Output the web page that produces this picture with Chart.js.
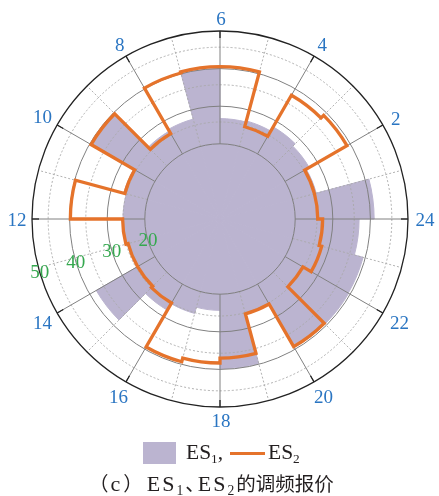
<!DOCTYPE html>
<html>
<head>
<meta charset="utf-8">
<script src="https://cdn.jsdelivr.net/npm/chart.js@4.4.1/dist/chart.umd.min.js"></script>
<style>
  html, body { margin: 0; padding: 0; background: #ffffff; }
  #wrap { position: relative; width: 439px; height: 496px; overflow: hidden; }
  #chart { position: absolute; left: 0; top: 0; }
  .serif { font-family: "Liberation Serif", "DejaVu Serif", serif; color: #231f20; }
  .abs { position: absolute; white-space: nowrap; }
  .cjk { font-family: "Noto Sans CJK SC", sans-serif; }
  #legend { position: absolute; left: 0; width: 439px; top: 441px; height: 24px; font-size: 21.5px; }
  #legend .box { left: 143px; top: 1px; width: 33px; height: 22px; background: #bbb4d0; }
  #legend .line { left: 230px; top: 10.5px; width: 35px; height: 3.5px; background: #e5732b; }
  #legend .t { top: -1px; line-height: 24px; }
  #caption { position: absolute; left: 89px; top: 472px; height: 24px; line-height: 22px; font-size: 22px; white-space: nowrap; }
  #caption .cjk { font-size: 19.5px; }
  #caption .lat { letter-spacing: 2px; }
  sub { font-size: 0.62em; vertical-align: -0.28em; line-height: 0; }
</style>
</head>
<body>
<div id="wrap">
  <canvas id="chart" width="439" height="496"></canvas>
  <div id="legend" class="serif">
    <span class="abs box"></span>
    <span class="abs t" style="left:186px">ES<sub>1</sub>,</span>
    <span class="abs line"></span>
    <span class="abs t" style="left:268px">ES<sub>2</sub></span>
  </div>
  <div id="caption" class="serif"><span class="cjk">（</span><span style="margin:0 3px 0 2px">c</span><span class="cjk">）</span><span class="lat" style="margin-left:4px">ES<sub>1</sub></span><span class="cjk" style="margin-right:-7px">、</span><span class="lat">ES<sub>2</sub></span><span class="cjk">的调频报价</span></div>
</div>
<script>
// Hour of day at the start of each one-hour slot
const hours = [0, 1, 2, 3, 4, 5, 6, 7, 8, 9, 10, 11, 12, 13, 14, 15, 16, 17, 18, 19, 20, 21, 22, 23];
// ES1 regulation bid per hour (filled)
const es1 = [41.0, 26.5, 27.4, 28.3, 27.0, 26.7, 40.0, 27.5, 27.0, 39.5, 26.5, 25.8,
             25.8, 25.5, 38.0, 28.0, 26.0, 24.3, 39.8, 26.0, 39.5, 39.5, 39.4, 37.0];
// ES2 regulation bid per hour (stepped outline)
const es2 = [26.0, 26.0, 39.0, 38.0, 25.4, 40.5, 40.5, 40.2, 26.2, 39.6, 26.2, 39.8,
             25.9, 25.3, 25.3, 25.8, 39.3, 38.3, 37.0, 26.1, 39.2, 25.5, 28.0, 27.3];
// Angular tick labels (hours) and radial ticks
const hourTicks = [2, 4, 6, 8, 10, 12, 14, 16, 18, 20, 22, 24];
const radialTicks = [20, 30, 40, 50];
const minorRings = [25.8, 35.7, 45.7];
const radialLabelHour = 13.1;

// Chart.js sweeps clockwise from the top, while the clock runs counter-clockwise
// with 6 h at the top, so slot k holds the hour that starts at (5 - k) mod 24.
const slotHours = hours.map((_, k) => (29 - k) % 24);
const slotLabels = slotHours.map(h => String(h));
const es1Slots = slotHours.map(h => es1[h]);

const COLORS = {
  fill: '#bbb4d0',
  line: '#e5732b',
  majorGrid: '#808080',
  minorGrid: '#a8a8a8',
  outer: '#222222',
  hourText: '#2a75c2',
  radialText: '#35a84f'
};

const polarDecor = {
  id: 'polarDecor',
  afterDatasetsDraw(chart) {
    const s = chart.scales.r;
    const ctx = chart.ctx;
    const cx = s.xCenter, cy = s.yCenter;
    const R = v => s.getDistanceFromCenterForValue(v);
    // canvas angle of a clock time t (hours)
    const A = t => s.getIndexAngle((((6 - t) % 24) + 24) % 24) - Math.PI / 2;
    const rIn = R(radialTicks[0]), rOut = R(radialTicks[radialTicks.length - 1]);
    const spoke = (a, r0, r1) => {
      ctx.beginPath();
      ctx.moveTo(cx + r0 * Math.cos(a), cy + r0 * Math.sin(a));
      ctx.lineTo(cx + r1 * Math.cos(a), cy + r1 * Math.sin(a));
      ctx.stroke();
    };

    ctx.save();
    // dotted rings and odd-hour spokes
    ctx.setLineDash([2, 2]);
    ctx.strokeStyle = COLORS.minorGrid;
    ctx.lineWidth = 0.9;
    minorRings.forEach(v => {
      ctx.beginPath();
      ctx.arc(cx, cy, R(v), 0, Math.PI * 2);
      ctx.stroke();
    });
    hours.forEach(h => { if (h % 2 === 1) spoke(A(h), rIn, rOut); });
    ctx.setLineDash([]);

    // solid rings and even-hour spokes
    ctx.strokeStyle = COLORS.majorGrid;
    ctx.lineWidth = 1;
    radialTicks.slice(0, -1).forEach(v => {
      ctx.beginPath();
      ctx.arc(cx, cy, R(v), 0, Math.PI * 2);
      ctx.stroke();
    });
    hours.forEach(h => { if (h % 2 === 0) spoke(A(h), rIn, rOut); });

    // outer ring with inward ticks
    ctx.strokeStyle = COLORS.outer;
    ctx.lineWidth = 1.3;
    ctx.beginPath();
    ctx.arc(cx, cy, rOut, 0, Math.PI * 2);
    ctx.stroke();
    hourTicks.forEach(h => spoke(A(h % 24), rOut - 7, rOut));

    // ES2 stepped outline
    ctx.strokeStyle = COLORS.line;
    ctx.lineWidth = 3.3;
    ctx.lineJoin = 'miter';
    ctx.beginPath();
    es2.forEach((v, h) => {
      ctx.arc(cx, cy, R(v), A(h), A(h + 1), true);
    });
    ctx.closePath();
    ctx.stroke();

    // hour labels, set just outside the ring along each tick direction
    ctx.font = '19px "Liberation Serif", serif';
    ctx.textAlign = 'center';
    ctx.textBaseline = 'middle';
    ctx.fillStyle = COLORS.hourText;
    const textH = 13, gap = 6.5;
    hourTicks.forEach(h => {
      const a = A(h % 24);
      const ux = Math.cos(a), uy = Math.sin(a);
      const w = ctx.measureText(String(h)).width;
      const d = rOut + gap + Math.abs(ux) * w / 2 + Math.abs(uy) * textH / 2;
      ctx.fillText(String(h), cx + d * ux + 1, cy + d * uy + 2);
    });

    // radial labels
    ctx.fillStyle = COLORS.radialText;
    const ra = A(radialLabelHour);
    radialTicks.forEach(v => {
      const d = R(v);
      ctx.fillText(String(v), cx + d * Math.cos(ra), cy + d * Math.sin(ra) + 1);
    });
    ctx.restore();
  }
};

new Chart(document.getElementById('chart'), {
  type: 'polarArea',
  data: {
    labels: slotLabels,
    datasets: [{
      label: 'ES1',
      data: es1Slots,
      backgroundColor: COLORS.fill,
      borderColor: COLORS.fill,
      borderWidth: 1
    }]
  },
  options: {
    responsive: false,
    animation: false,
    layout: { padding: { left: 32, right: 31, top: 31, bottom: 89 } },
    plugins: { legend: { display: false }, tooltip: { enabled: false } },
    scales: {
      r: {
        min: 0,
        max: 50,
        startAngle: 0,
        ticks: { display: false },
        grid: { display: false },
        angleLines: { display: false },
        pointLabels: { display: false }
      }
    }
  },
  plugins: [polarDecor]
});
</script>
</body>
</html>
